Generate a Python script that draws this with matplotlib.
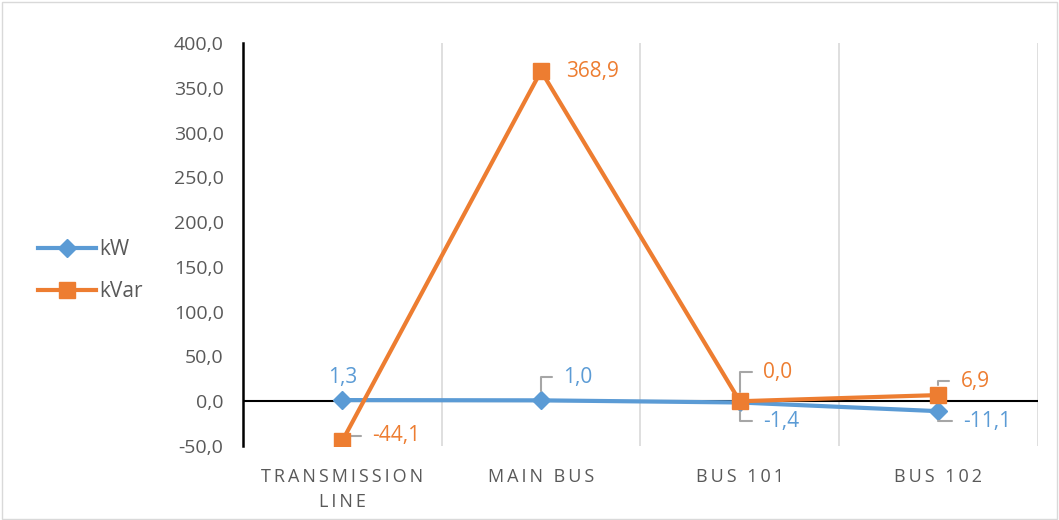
import matplotlib.pyplot as plt
import numpy as np

categories = ['TRANSMISSION\nLINE', 'MAIN BUS', 'BUS 101', 'BUS 102']
kw = [1.3, 1.0, -1.4, -11.1]
kvar = [-44.1, 368.9, 0.0, 6.9]
y_ticks = [-50, 0, 50, 100, 150, 200, 250, 300, 350, 400]

BLUE = '#5B9BD5'
ORANGE = '#ED7D31'
TEXT = '#595959'
LEADER = '#A6A6A6'


def spaced(s):
    # letter-spaced category labels, like the original
    return '\n'.join('\u2009'.join(line) for line in s.split('\n'))


def fmt(v):
    return f'{v:.1f}'.replace('.', ',')


def label(ax, x, y, text, color, dx, dy, ha='left', leader=True):
    kw_args = dict(xytext=(dx, dy), textcoords='offset pixels', ha=ha, va='center',
                   color=color, fontsize=15)
    if leader:
        kw_args['arrowprops'] = dict(arrowstyle='-', color=LEADER, lw=1.5, shrinkA=6, shrinkB=7,
                                     connectionstyle='angle,angleA=0,angleB=90,rad=0')
    ax.annotate(text, (x, y), **kw_args)


def main():
    plt.rcParams['font.family'] = ['Open Sans', 'DejaVu Sans']
    fig = plt.figure(figsize=(10.59, 5.2), dpi=100)
    ax = fig.add_axes([0.2295, 0.1423, 0.7505, 0.7747])

    x = np.arange(len(categories))
    l1, = ax.plot(x, kw, color=BLUE, lw=3, marker='D', ms=9, label='kW', zorder=3)
    l2, = ax.plot(x, kvar, color=ORANGE, lw=3, marker='s', ms=11, label='kVar', zorder=4)

    ax.set_xlim(-0.5, 3.5)
    ax.set_ylim(-50, 400)
    ax.set_yticks(y_ticks)
    ax.set_yticklabels([fmt(v) for v in y_ticks], fontsize=14, color=TEXT)
    ax.set_xticks(x)
    ax.set_xticklabels([spaced(c) for c in categories], fontsize=13, color=TEXT, linespacing=1.45)
    ax.tick_params(length=0)
    ax.tick_params(axis='x', pad=16)
    ax.tick_params(axis='y', pad=14)

    for b in [0.5, 1.5, 2.5, 3.5]:
        ax.axvline(b, color='#D9D9D9', lw=1.2, zorder=1)
    ax.axhline(0, color='black', lw=1.5, zorder=2)
    for s in ['top', 'right', 'bottom']:
        ax.spines[s].set_visible(False)
    ax.spines['left'].set_linewidth(1.8)
    ax.spines['left'].set_color('black')

    # kW labels
    label(ax, 0, kw[0], fmt(kw[0]), BLUE, 0, 23, ha='center', leader=False)
    label(ax, 1, kw[1], fmt(kw[1]), BLUE, 22, 23)
    label(ax, 2, kw[2], fmt(kw[2]), BLUE, 23, -19)
    label(ax, 3, kw[3], fmt(kw[3]), BLUE, 25, -10)

    # kVar labels
    label(ax, 0, kvar[0], fmt(kvar[0]), ORANGE, 30, 5)
    label(ax, 1, kvar[1], fmt(kvar[1]), ORANGE, 25, 0, leader=False)
    label(ax, 2, kvar[2], fmt(kvar[2]), ORANGE, 23, 29)
    label(ax, 3, kvar[3], fmt(kvar[3]), ORANGE, 22, 14)

    fig.legend(handles=[l1, l2], loc='center left', bbox_to_anchor=(0.018, 0.48),
               frameon=False, fontsize=15, labelcolor=TEXT, handlelength=2.8,
               labelspacing=1.0, handletextpad=0.15)

    fig.patches.append(plt.Rectangle((0.002, 0.002), 0.996, 0.994, transform=fig.transFigure,
                                     fill=False, edgecolor='#D9D9D9', lw=1))
    fig.savefig('out.png', dpi=100)


if __name__ == '__main__':
    main()
